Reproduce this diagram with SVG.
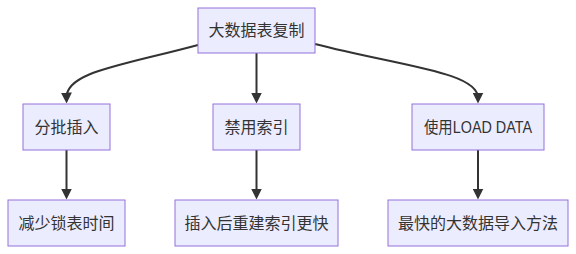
<svg xmlns="http://www.w3.org/2000/svg" width="576" height="254" viewBox="0 0 576 254">
<style>
.node rect{fill:#ECECFF;stroke:#9370DB;stroke-width:1}
.node text{font-family:"Liberation Sans","Noto Sans CJK SC",sans-serif;font-size:16px;fill:#333;text-anchor:middle;dominant-baseline:central}
.edge{fill:none;stroke:#333;stroke-width:2}
</style>
<defs>
<marker id="arrow" markerUnits="userSpaceOnUse" viewBox="0 0 10 10" refX="5" refY="5" markerWidth="11" markerHeight="11" orient="auto">
<path d="M0,0 L10,5 L0,10 z" fill="#333"/>
</marker>
</defs>
<g id="edges">
<path class="edge" d="M198,45 C120,66 66,72 66.5,98" marker-end="url(#arrow)"/>
<path class="edge" d="M256.5,53 L256.5,98" marker-end="url(#arrow)"/>
<path class="edge" d="M315,44 C400,66 478,72 478,98" marker-end="url(#arrow)"/>
<path class="edge" d="M66.5,150 L66.5,194" marker-end="url(#arrow)"/>
<path class="edge" d="M256.5,150 L256.5,194" marker-end="url(#arrow)"/>
<path class="edge" d="M478,150 L478,194" marker-end="url(#arrow)"/>
</g>
<g id="A" class="node"><rect x="198" y="8" width="117" height="45"/><text x="256.5" y="30.5">大数据表复制</text></g>
<g id="B" class="node"><rect x="23" y="104" width="87" height="46"/><text x="66.5" y="127">分批插入</text></g>
<g id="C" class="node"><rect x="213" y="104" width="87" height="46"/><text x="256.5" y="127">禁用索引</text></g>
<g id="D" class="node"><rect x="412" y="104" width="132" height="46"/><text x="478" y="127" textLength="108" lengthAdjust="spacingAndGlyphs">使用LOAD DATA</text></g>
<g id="E" class="node"><rect x="8" y="200" width="117" height="46"/><text x="66.5" y="223">减少锁表时间</text></g>
<g id="F" class="node"><rect x="175" y="200" width="163" height="46"/><text x="256.5" y="223">插入后重建索引更快</text></g>
<g id="G" class="node"><rect x="388" y="200" width="180" height="46"/><text x="478" y="223">最快的大数据导入方法</text></g>
</svg>
